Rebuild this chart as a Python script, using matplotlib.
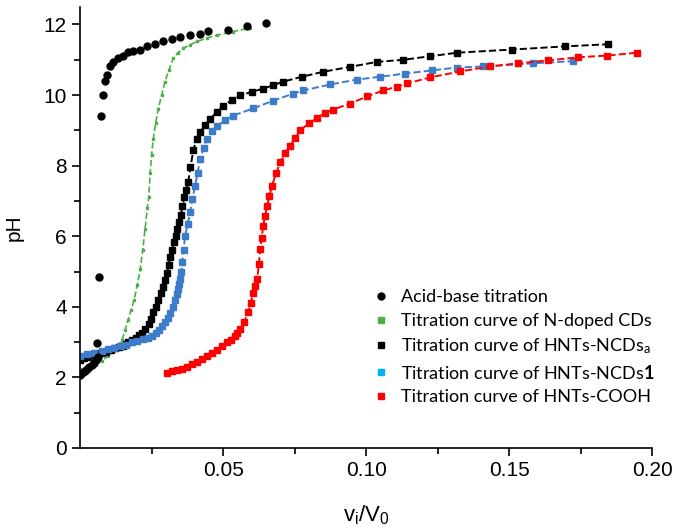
import matplotlib
matplotlib.use('Agg')
import matplotlib.pyplot as plt
from matplotlib.lines import Line2D

plt.rcParams['font.family'] = ['Liberation Sans', 'DejaVu Sans']
plt.rcParams['mathtext.fontset'] = 'custom'
plt.rcParams['mathtext.bf'] = 'Lato:bold'
plt.rcParams['mathtext.rm'] = 'Lato'

# acid-base titration (black dots)
acid_x = [0.0000, 0.0008, 0.0016, 0.0024, 0.0032, 0.0040, 0.0048, 0.0056, 0.0062,
          0.0059, 0.0066, 0.0073, 0.0080, 0.0087, 0.0094, 0.0105, 0.0115, 0.0133, 0.0150,
          0.0168, 0.0185, 0.0210, 0.0234, 0.0262, 0.0290, 0.0322, 0.0350, 0.0385, 0.0420,
          0.0448, 0.0517, 0.0584, 0.0650]
acid_y = [2.06, 2.12, 2.18, 2.24, 2.30, 2.36, 2.42, 2.50, 2.58,
          2.96, 4.84, 9.42, 9.99, 10.41, 10.56, 10.81, 10.95, 11.04, 11.12,
          11.21, 11.24, 11.29, 11.38, 11.44, 11.52, 11.58, 11.64, 11.69, 11.72,
          11.81, 11.84, 11.95, 12.03]

# N-doped CDs (green)
green_x = [0.0000, 0.0025, 0.0052, 0.0075, 0.0098, 0.0125, 0.0147, 0.0158, 0.0168, 0.0179,
           0.0189, 0.0200, 0.0210, 0.0219, 0.0227, 0.0235, 0.0240, 0.0245, 0.0250, 0.0256,
           0.0264, 0.0273, 0.0285, 0.0297, 0.0310, 0.0326, 0.0342, 0.0360, 0.0385, 0.0410,
           0.0445, 0.0480, 0.0535, 0.0594]
green_y = [2.22, 2.29, 2.36, 2.46, 2.60, 2.80, 3.07, 3.35, 3.64, 3.92,
           4.20, 4.62, 5.06, 5.60, 6.20, 6.80, 7.10, 7.80, 8.30, 8.76,
           9.20, 9.60, 10.00, 10.38, 10.70, 11.04, 11.20, 11.32, 11.43, 11.52,
           11.62, 11.70, 11.80, 11.90]

# HNTs-NCDs_a (black squares)
ncda_x = [0.0000, 0.0013, 0.0026, 0.0039, 0.0052, 0.0065, 0.0078, 0.0092, 0.0107, 0.0122,
          0.0136, 0.0150, 0.0160, 0.0168, 0.0180, 0.0195, 0.0207, 0.0217, 0.0228, 0.0240,
          0.0248, 0.0256, 0.0265, 0.0273, 0.0282, 0.0290, 0.0298, 0.0305, 0.0310, 0.0315,
          0.0322, 0.0328, 0.0334, 0.0340, 0.0346, 0.0352, 0.0358, 0.0365, 0.0372, 0.0378,
          0.0386, 0.0396, 0.0408, 0.0420, 0.0437, 0.0455, 0.0478, 0.0500, 0.0530, 0.0560,
          0.0600, 0.0640, 0.0675, 0.0710, 0.0776, 0.0850, 0.0944, 0.1038, 0.1130, 0.1224,
          0.1318, 0.1510, 0.1696, 0.1846]
ncda_y = [2.50, 2.54, 2.58, 2.62, 2.65, 2.68, 2.70, 2.73, 2.77, 2.82,
          2.86, 2.90, 2.94, 2.99, 3.05, 3.12, 3.19, 3.27, 3.38, 3.50,
          3.65, 3.84, 4.00, 4.20, 4.38, 4.55, 4.75, 4.97, 5.18, 5.40,
          5.62, 5.85, 6.02, 6.20, 6.40, 6.60, 6.85, 7.10, 7.32, 7.54,
          7.95, 8.45, 8.75, 8.96, 9.15, 9.33, 9.52, 9.70, 9.85, 9.99,
          10.09, 10.18, 10.28, 10.38, 10.52, 10.66, 10.80, 10.94, 11.00, 11.10,
          11.20, 11.29, 11.38, 11.44]

# HNTs-NCDs1 (blue squares)
ncd1_x = [0.0000, 0.0025, 0.0050, 0.0075, 0.0098, 0.0120, 0.0140, 0.0160, 0.0182, 0.0200,
          0.0220, 0.0237, 0.0252, 0.0265, 0.0275, 0.0287, 0.0297, 0.0307, 0.0315, 0.0325,
          0.0332, 0.0338, 0.0343, 0.0347, 0.0350, 0.0354, 0.0357, 0.0362, 0.0367, 0.0376,
          0.0385, 0.0393, 0.0402, 0.0411, 0.0420, 0.0432, 0.0444, 0.0462, 0.0480, 0.0507,
          0.0535, 0.0605, 0.0675, 0.0745, 0.0780, 0.0874, 0.0969, 0.1049, 0.1136, 0.1231,
          0.1318, 0.1409, 0.1584, 0.1724]
ncd1_y = [2.60, 2.65, 2.70, 2.75, 2.79, 2.84, 2.88, 2.93, 2.99, 3.03,
          3.08, 3.12, 3.16, 3.25, 3.35, 3.45, 3.56, 3.68, 3.83, 4.00,
          4.20, 4.35, 4.50, 4.65, 4.78, 5.00, 5.26, 5.62, 6.00, 6.35,
          6.68, 7.05, 7.43, 7.80, 8.19, 8.50, 8.76, 8.97, 9.13, 9.28,
          9.42, 9.62, 9.84, 10.04, 10.13, 10.30, 10.44, 10.52, 10.61, 10.70,
          10.78, 10.81, 10.90, 10.96]

# HNTs-COOH (red squares)
cooh_x = [0.0304, 0.0322, 0.0340, 0.0357, 0.0374, 0.0392, 0.0410, 0.0427, 0.0444, 0.0462,
          0.0480, 0.0497, 0.0514, 0.0527, 0.0540, 0.0550, 0.0560, 0.0574, 0.0587, 0.0597,
          0.0605, 0.0612, 0.0619, 0.0625, 0.0630, 0.0635, 0.0640, 0.0647, 0.0654, 0.0662,
          0.0671, 0.0685, 0.0700, 0.0717, 0.0734, 0.0752, 0.0770, 0.0800, 0.0829, 0.0857,
          0.0885, 0.0944, 0.1003, 0.1060, 0.1108, 0.1143, 0.1224, 0.1329, 0.1434, 0.1531,
          0.1636, 0.1741, 0.1843, 0.1948]
cooh_y = [2.13, 2.17, 2.21, 2.25, 2.30, 2.37, 2.44, 2.52, 2.60, 2.69,
          2.78, 2.88, 2.99, 3.07, 3.16, 3.26, 3.36, 3.58, 3.84, 4.10,
          4.40, 4.60, 4.78, 5.20, 5.63, 5.96, 6.29, 6.58, 6.86, 7.15,
          7.43, 7.78, 8.10, 8.35, 8.56, 8.78, 9.00, 9.20, 9.35, 9.50,
          9.59, 9.76, 9.96, 10.13, 10.24, 10.33, 10.50, 10.67, 10.81, 10.90,
          10.98, 11.07, 11.12, 11.20]

green = '#4caf48'
blue = '#3d7cc9'
red = '#ff0000'

fig = plt.figure(figsize=(6.73, 5.27), dpi=100)
ax = fig.add_axes([0.119, 0.150, 0.850, 0.837])

ax.plot(green_x, green_y, color=green, ls='--', lw=1.2, marker='s', ms=2)
ax.plot(ncda_x, ncda_y, color='black', ls='--', lw=1.4, marker='s', ms=4)
ax.plot(ncd1_x, ncd1_y, color=blue, ls='--', lw=1.4, marker='s', ms=4)
ax.plot(cooh_x, cooh_y, color=red, ls='--', lw=1.4, marker='s', ms=4.5)
ax.plot(acid_x, acid_y, color='black', ls='none', marker='o', ms=5)

ax.set_xlim(0, 0.2)
ax.set_ylim(0, 12.5)
ax.set_xticks([0.05, 0.10, 0.15, 0.20])
ax.set_xticklabels(['0.05', '0.10', '0.15', '0.20'])
ax.set_xticks([0.025, 0.075, 0.125, 0.175], minor=True)
ax.set_yticks([0, 2, 4, 6, 8, 10, 12])
ax.set_yticks([1, 3, 5, 7, 9, 11], minor=True)
ax.tick_params(which='both', direction='out', labelsize=15, width=1.2)
ax.tick_params(which='major', length=6)
ax.tick_params(which='minor', length=4)
for s in ['top', 'right']:
    ax.spines[s].set_visible(False)
for s in ['left', 'bottom']:
    ax.spines[s].set_linewidth(1.2)

ax.set_xlabel(r'$\mathregular{v_i/V_0}$', fontsize=16, labelpad=17)
ax.set_ylabel('pH', fontsize=15, labelpad=14)

handles = [
    Line2D([], [], color='black', marker='o', ls='none', ms=5),
    Line2D([], [], color=green, marker='s', ls='none', ms=5),
    Line2D([], [], color='black', marker='s', ls='none', ms=5),
    Line2D([], [], color='#00b0f0', marker='s', ls='none', ms=5),
    Line2D([], [], color=red, marker='s', ls='none', ms=5),
]
labels = [
    'Acid-base titration',
    'Titration curve of N-doped CDs',
    r'Titration curve of HNTs-NCDs$\mathregular{_a}$',
    r'Titration curve of HNTs-NCDs$\mathbf{1}$',
    'Titration curve of HNTs-COOH',
]
ax.legend(handles, labels, loc='upper left', bbox_to_anchor=(358 / 673, 1 - 273 / 527),
          bbox_transform=fig.transFigure, frameon=False, prop={'family': 'Lato', 'size': 13},
          handlelength=0.8, handletextpad=0.7, labelspacing=0.42)

fig.savefig('out.png', dpi=100)
